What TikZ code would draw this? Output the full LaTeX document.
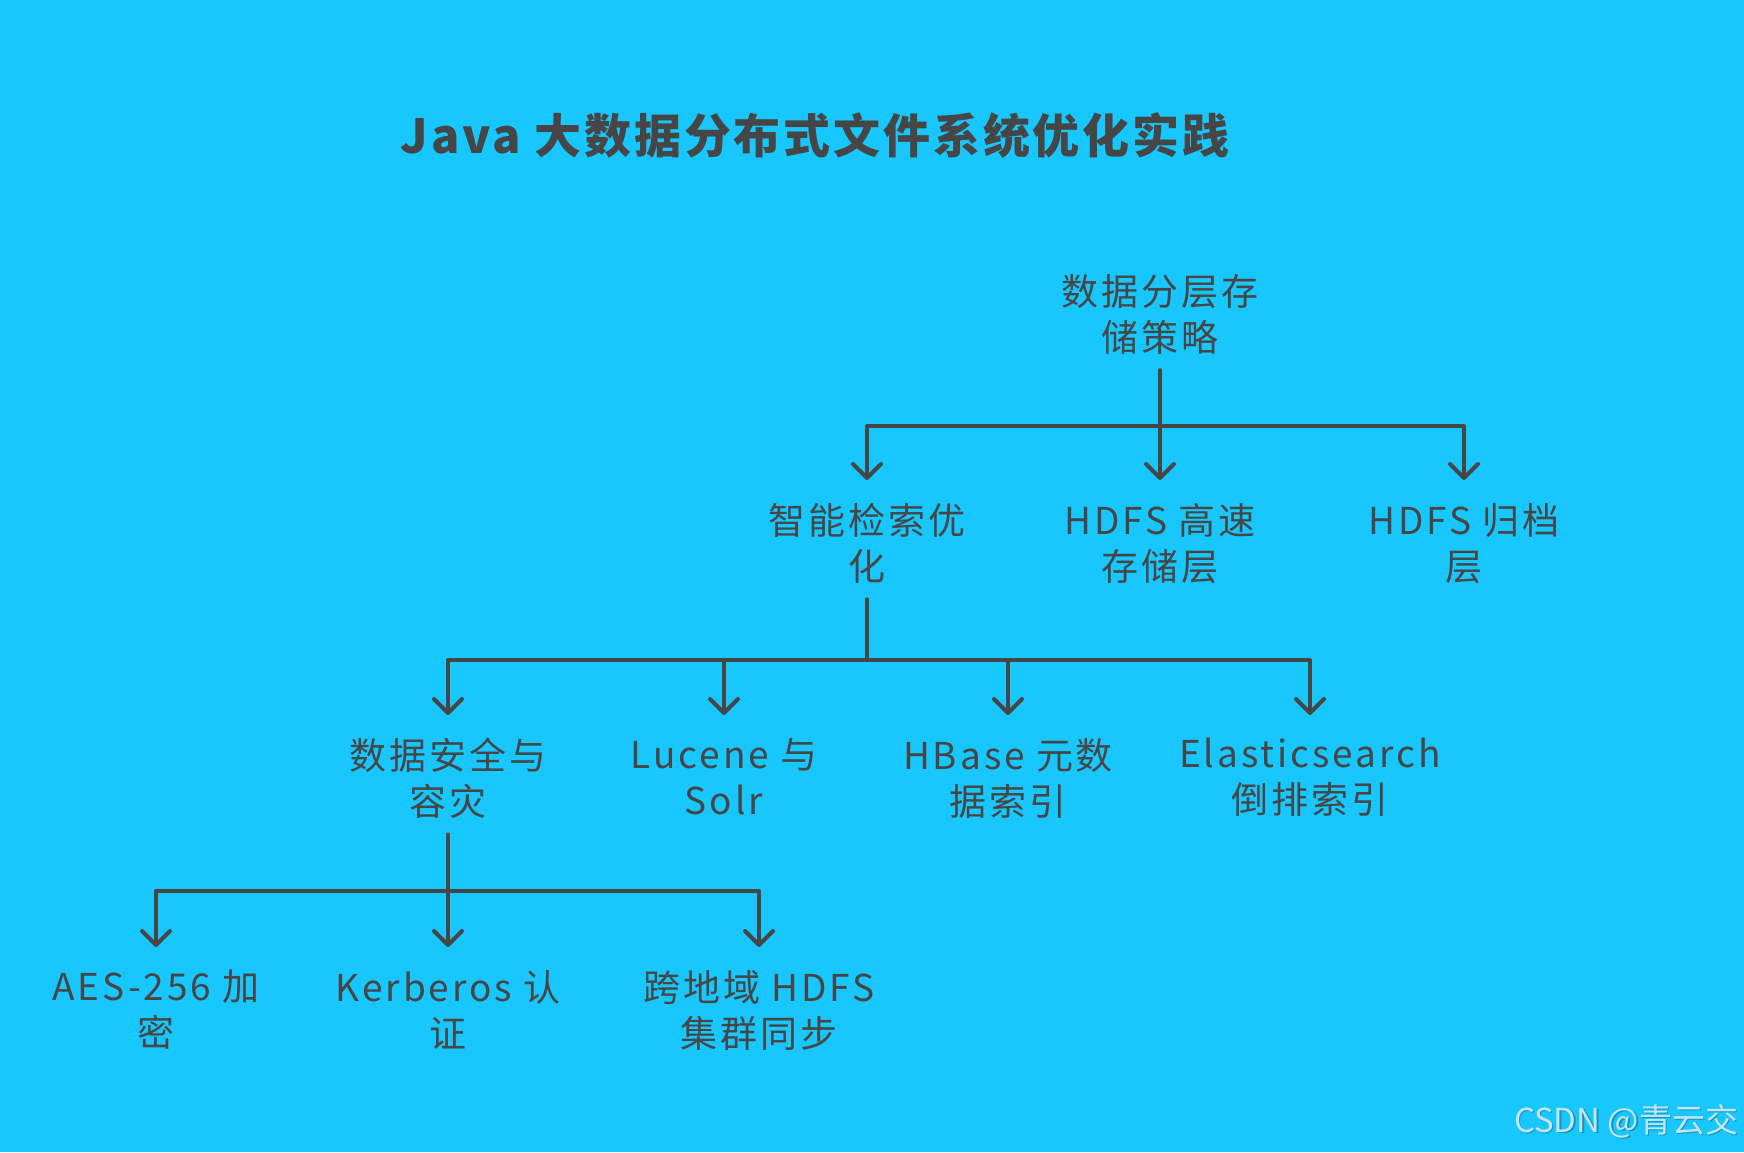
\documentclass[tikz,border=0pt]{standalone}
\usepackage{fontspec}
\setmainfont{Noto Sans CJK SC}
\usetikzlibrary{arrows.meta}
\definecolor{bg}{RGB}{25,199,255}
\definecolor{ink}{RGB}{70,70,70}
\definecolor{wm}{RGB}{196,230,240}
\begin{document}
\begin{tikzpicture}[x=1pt,y=-1pt,
 lbl/.style={anchor=north,inner sep=0pt,outer sep=0pt,align=center,text=ink,font=\fontsize{37}{46}\selectfont\addfontfeature{LetterSpace=8}},
 ln/.style={draw=ink,line width=4pt,line cap=round,line join=round},
 arr/.style={ln,-{Straight Barb[length=14pt,width=28pt,round]}},
 tip/.style={yshift=23pt},
 stem/.style={yshift=-16pt}]
\fill[bg] (0,0) rectangle (1744,1152);
\useasboundingbox (0,0) rectangle (1744,1152);
% title
\node[font=\fontsize{47}{52}\selectfont\bfseries\addfontfeature{LetterSpace=6},text=ink] (title) at (815,136) {Java 大数据分布式文件系统优化实践};
% nodes
\node[lbl] (r) at (1160,274) {数据分层存\\储策略};
\node[lbl] (a) at (867,503) {智能检索优\\化};
\node[lbl] (b) at (1160,503) {HDFS 高速\\存储层};
\node[lbl] (c) at (1464,503) {HDFS 归档\\层};
\node[lbl] (a1) at (448,738) {数据安全与\\容灾};
\node[lbl] (a2) at (724,738) {Lucene 与\\Solr};
\node[lbl] (a3) at (1008,738) {HBase 元数\\据索引};
\node[lbl] (a4) at (1310,738) {Elasticsearch\\倒排索引};
\node[lbl] (s1) at (156,970) {AES-256 加\\密};
\node[lbl] (s2) at (448,970) {Kerberos 认\\证};
\node[lbl] (s3) at (759,970) {跨地域 HDFS\\集群同步};
% bars
\coordinate (b1) at (1160,426);
\coordinate (b2) at (867,660);
\coordinate (b3) at (448,891);
\draw[ln] ([stem]r.south) -- (b1);
\draw[arr] (b1) -| ([tip]a.north);
\draw[arr] (b1) -- ([tip]b.north);
\draw[arr] (b1) -| ([tip]c.north);
\draw[ln] ([stem]a.south) -- (b2);
\draw[arr] (b2) -| ([tip]a1.north);
\draw[arr] (b2) -| ([tip]a2.north);
\draw[arr] (b2) -| ([tip]a3.north);
\draw[arr] (b2) -| ([tip]a4.north);
\draw[ln] ([stem]a1.south) -- (b3);
\draw[arr] (b3) -| ([tip]s1.north);
\draw[arr] (b3) -- ([tip]s2.north);
\draw[arr] (b3) -| ([tip]s3.north);
% watermark
\node[font=\fontsize{33}{36}\selectfont,text=black,opacity=0.25] (wms) at (1627.5,1122.5) {CSDN @青云交};
\node[font=\fontsize{33}{36}\selectfont,text=wm] (wmk) at (1626,1121) {CSDN @青云交};
\end{tikzpicture}
\end{document}
